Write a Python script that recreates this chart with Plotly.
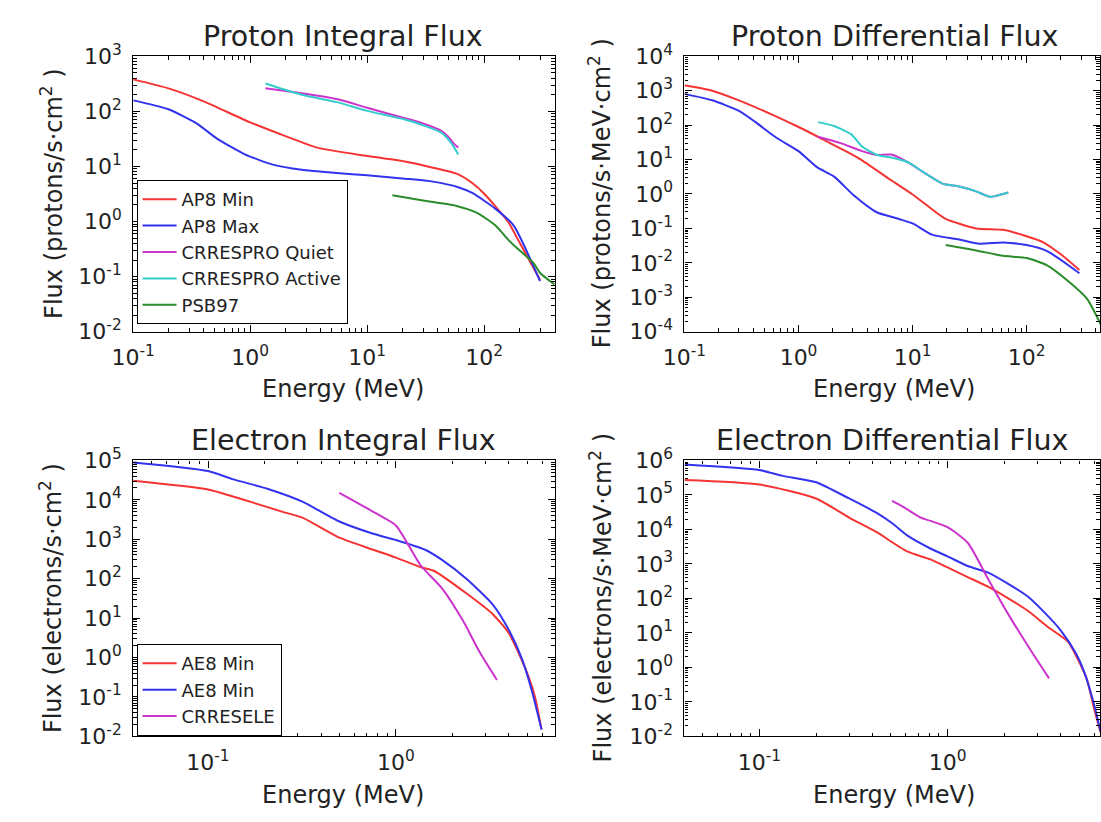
import plotly.graph_objects as go

# ---------------- Proton integral flux (protons/s.cm^2) ----------------
ap8min_int_E = [0.1, 0.2, 0.4, 1.0, 1.9, 3.8, 10, 21.5, 36.5, 60, 79, 100, 160, 200, 300]
ap8min_int_F = [380, 261, 152, 63, 37, 21.7, 15.5, 12.2, 9.5, 7.2, 5.0, 3.2, 0.99, 0.42, 0.088]

ap8max_int_E = [0.1, 0.2, 0.35, 0.52, 0.9, 1.56, 2.75, 5.5, 10, 21, 36.5, 60, 79, 125, 178, 300]
ap8max_int_F = [158, 109, 60, 32, 16.6, 10.8, 8.7, 7.6, 6.9, 6.0, 5.3, 4.2, 3.3, 1.7, 0.85, 0.083]

crrespro_q_int_E = [1.35, 2.75, 5.5, 10, 21, 30, 43, 49, 55, 60]
crrespro_q_int_F = [262, 213, 167, 116, 75, 60, 44, 35, 26, 22]

crrespro_a_int_E = [1.35, 2.75, 5.5, 10, 21, 30, 43, 52, 60]
crrespro_a_int_F = [319, 200, 147, 102, 71, 56, 41, 27, 16.5]

psb97_int_E = [16.4, 30, 57, 86, 125, 160, 200, 262, 302, 400]
psb97_int_F = [3.0, 2.4, 1.94, 1.45, 0.85, 0.47, 0.3, 0.18, 0.115, 0.072]

# ---------------- Proton differential flux (protons/s.MeV.cm^2) ----------------
ap8min_diff_E = [0.1, 0.175, 0.3, 0.6, 1.0, 1.67, 3.3, 6.5, 10, 15.9, 19.5, 36, 62, 100, 141, 198, 290]
ap8min_diff_F = [1440, 1000, 525, 195, 88, 37, 11.4, 2.5, 0.97, 0.3, 0.19, 0.1, 0.091, 0.059, 0.039, 0.018, 0.0062]

ap8max_diff_E = [0.1, 0.175, 0.3, 0.42, 0.64, 1.0, 1.45, 2.05, 3.1, 4.8, 7.5, 10, 14.8, 25.6, 38.5, 62, 100, 151, 290]
ap8max_diff_F = [808, 525, 258, 122, 43, 17.6, 6.0, 3.2, 0.87, 0.3, 0.19, 0.14, 0.066, 0.048, 0.036, 0.039, 0.033, 0.022, 0.005]

crrespro_q_diff_E = [1.48, 2.34, 3.6, 4.9, 6.5, 9.2, 13, 18.3, 25.6, 36, 48, 55, 69]
crrespro_q_diff_F = [46, 30, 17.6, 13.6, 14, 8.2, 3.9, 2.0, 1.64, 1.19, 0.82, 0.9, 1.11]

crrespro_a_diff_E = [1.48, 2.05, 2.9, 3.6, 4.9, 6.5, 9.2, 13, 18.3, 25.6, 36, 48, 55, 69]
crrespro_a_diff_F = [122, 94, 54, 24, 13.6, 11.4, 8.2, 3.9, 2.0, 1.64, 1.19, 0.82, 0.9, 1.11]

psb97_diff_E = [19.5, 36, 62, 100, 151, 242, 340, 440, 500]
psb97_diff_F = [0.033, 0.023, 0.016, 0.0138, 0.0085, 0.0026, 0.00089, 0.00018, 0.00007]

# ---------------- Electron integral flux (electrons/s.cm^2) ----------------
ae8min_int_E = [0.04, 0.1, 0.167, 0.245, 0.318, 0.49, 0.75, 1.0, 1.36, 1.6, 2.38, 3.28, 4.0, 4.5, 5.0, 5.5, 5.96]
ae8min_int_F = [30600, 18300, 9000, 5100, 3530, 1150, 550, 343, 195, 157, 42, 12.6, 4.1, 1.3, 0.4, 0.1, 0.015]

ae8max_int_E = [0.04, 0.1, 0.135, 0.207, 0.318, 0.49, 0.75, 1.0, 1.42, 1.76, 2.38, 3.28, 4.0, 4.7, 5.3, 5.96]
ae8max_int_F = [89000, 54000, 33600, 19200, 9000, 2950, 1400, 960, 550, 300, 98, 22, 4.9, 0.9, 0.14, 0.015]

crresele_int_E = [0.5, 0.75, 1.0, 1.15, 1.36, 1.76, 2.27, 2.8, 3.45]
crresele_int_F = [15000, 5100, 2240, 800, 213, 57, 8.8, 1.34, 0.27]

# ---------------- Electron differential flux (electrons/s.MeV.cm^2) ----------------
ae8min_diff_E = [0.04, 0.1, 0.2, 0.3, 0.42, 0.61, 0.81, 1.0, 1.28, 1.64, 2.1, 2.68, 3.43, 4.37, 4.97, 5.5, 6.0, 6.5]
ae8min_diff_F = [270000, 200000, 79000, 22000, 8300, 2300, 1350, 790, 415, 218, 100, 43, 14.6, 5.5, 1.55, 0.45, 0.065, 0.013]

ae8max_diff_E = [0.04, 0.1, 0.133, 0.2, 0.3, 0.42, 0.51, 0.61, 0.81, 1.0, 1.28, 1.64, 2.1, 2.68, 3.29, 4.0, 4.8, 5.4, 6.0, 6.5]
ae8max_diff_F = [760000, 525000, 357000, 234000, 79000, 30000, 14800, 6700, 2800, 1650, 870, 560, 265, 112, 38, 11.7, 2.6, 0.59, 0.085, 0.014]

crresele_diff_E = [0.507, 0.587, 0.72, 0.81, 1.0, 1.28, 1.64, 2.1, 2.68, 3.46]
crresele_diff_F = [67000, 43500, 22000, 17700, 11600, 4100, 370, 35, 4.1, 0.48]

RED = "#f53333"
BLUE = "#3333ee"
MAGENTA = "#cc33cc"
CYAN = "#33cccc"
GREEN = "#2a8c2a"
FONT = "DejaVu Sans"
INK = "#222222"

fig = go.Figure()


def add(x, y, name, color, axis, legend=None):
    fig.add_trace(go.Scatter(
        x=x, y=y, mode="lines", name=name,
        line=dict(color=color, width=2, shape="spline", smoothing=0.6),
        xaxis="x" + axis, yaxis="y" + axis,
        showlegend=legend is not None,
        legend=legend if legend else "legend",
        legendgroup=name + axis,
    ))


# top-left: proton integral
add(ap8min_int_E, ap8min_int_F, "AP8 Min", RED, "", "legend")
add(ap8max_int_E, ap8max_int_F, "AP8 Max", BLUE, "", "legend")
add(crrespro_q_int_E, crrespro_q_int_F, "CRRESPRO Quiet", MAGENTA, "", "legend")
add(crrespro_a_int_E, crrespro_a_int_F, "CRRESPRO Active", CYAN, "", "legend")
add(psb97_int_E, psb97_int_F, "PSB97", GREEN, "", "legend")

# top-right: proton differential
add(ap8min_diff_E, ap8min_diff_F, "AP8 Min", RED, "2")
add(ap8max_diff_E, ap8max_diff_F, "AP8 Max", BLUE, "2")
add(crrespro_q_diff_E, crrespro_q_diff_F, "CRRESPRO Quiet", MAGENTA, "2")
add(crrespro_a_diff_E, crrespro_a_diff_F, "CRRESPRO Active", CYAN, "2")
add(psb97_diff_E, psb97_diff_F, "PSB97", GREEN, "2")

# bottom-left: electron integral
add(ae8min_int_E, ae8min_int_F, "AE8 Min", RED, "3", "legend2")
add(ae8max_int_E, ae8max_int_F, "AE8 Min", BLUE, "3", "legend2")
add(crresele_int_E, crresele_int_F, "CRRESELE", MAGENTA, "3", "legend2")

# bottom-right: electron differential
add(ae8min_diff_E, ae8min_diff_F, "AE8 Min", RED, "4")
add(ae8max_diff_E, ae8max_diff_F, "AE8 Max", BLUE, "4")
add(crresele_diff_E, crresele_diff_F, "CRRESELE", MAGENTA, "4")

W, H = 1101, 822
LEFT = [113.6 / W, 544.0 / W]
RIGHT = [676.6 / W, 1.0]
TOP = [1 - 327.3 / H, 1 - 41.7 / H]
BOTTOM = [1 - 746.7 / H, 1 - 460.7 / H]


def log_axis(domain, rng, exps, anchor):
    major = [10.0 ** e for e in exps]
    minor = [m * 10.0 ** k for k in range(min(exps) - 2, max(exps) + 2) for m in range(2, 10)]
    return dict(
        type="log", domain=domain, range=rng, anchor=anchor,
        tickmode="array", tickvals=major,
        ticktext=["10<sup>%d</sup>" % e for e in exps],
        ticks="inside", ticklen=7, tickwidth=1, tickcolor="black",
        minor=dict(tickmode="array", tickvals=minor, ticks="inside", ticklen=3.5,
                   tickwidth=1, tickcolor="black", showgrid=False),
        showline=True, linecolor="black", linewidth=1.2, mirror="ticks",
        showgrid=False, zeroline=False,
        tickfont=dict(family=FONT, size=22, color=INK),
        ticklabelstandoff=6,
    )


def legend_box(top_px):
    return dict(x=117 / W, y=1 - top_px / H, xanchor="left", yanchor="top",
                bgcolor="white", bordercolor="black", borderwidth=1,
                font=dict(family=FONT, size=18, color=INK), tracegroupgap=0,
                itemwidth=34)


layout = dict(
    width=W, height=H,
    margin=dict(l=0, r=0, t=0, b=0, pad=0),
    paper_bgcolor="white", plot_bgcolor="white",
    font=dict(family=FONT, color=INK),
    xaxis=log_axis(LEFT, [-1, 2.602], [-1, 0, 1, 2], "y"),
    yaxis=log_axis(TOP, [-2, 3], [-2, -1, 0, 1, 2, 3], "x"),
    xaxis2=log_axis(RIGHT, [-1, 2.643], [-1, 0, 1, 2], "y2"),
    yaxis2=log_axis(TOP, [-4, 4], [-4, -3, -2, -1, 0, 1, 2, 3, 4], "x2"),
    xaxis3=log_axis(LEFT, [-1.398, 0.845], [-1, 0], "y3"),
    yaxis3=log_axis(BOTTOM, [-2, 5], [-2, -1, 0, 1, 2, 3, 4, 5], "x3"),
    xaxis4=log_axis(RIGHT, [-1.398, 0.810], [-1, 0], "y4"),
    yaxis4=log_axis(BOTTOM, [-2, 6], [-2, -1, 0, 1, 2, 3, 4, 5, 6], "x4"),
    legend=legend_box(170),
    legend2=legend_box(651),
    showlegend=True,
)
fig.update_layout(**layout)


def label(text, x, y, size, angle=0):
    fig.add_annotation(text=text, x=x / W, y=1 - y / H, xref="paper", yref="paper",
                       showarrow=False, textangle=angle, xanchor="center", yanchor="middle",
                       font=dict(family=FONT, size=size, color=INK))


# subplot titles
label("Proton Integral Flux", 328, 21, 28.5)
label("Proton Differential Flux", 891, 21, 28.5)
label("Electron Integral Flux", 328, 440, 28.5)
label("Electron Differential Flux", 889, 440, 28.5)

# x-axis titles
for cx, cy in [(328, 387), (891, 387), (328, 807), (891, 807)]:
    label("Energy (MeV)", cx, cy, 24)

# y-axis titles
label("Flux (protons/s·cm<sup>2</sup> )", 30, 184, 24, -90)
label("Flux (protons/s·MeV·cm<sup>2</sup> )", 590, 184, 24, -90)
label("Flux (electrons/s·cm<sup>2</sup> )", 29, 603, 24, -90)
label("Flux (electrons/s·MeV·cm<sup>2</sup> )", 591, 603, 24, -90)

fig.write_html("out.html")
